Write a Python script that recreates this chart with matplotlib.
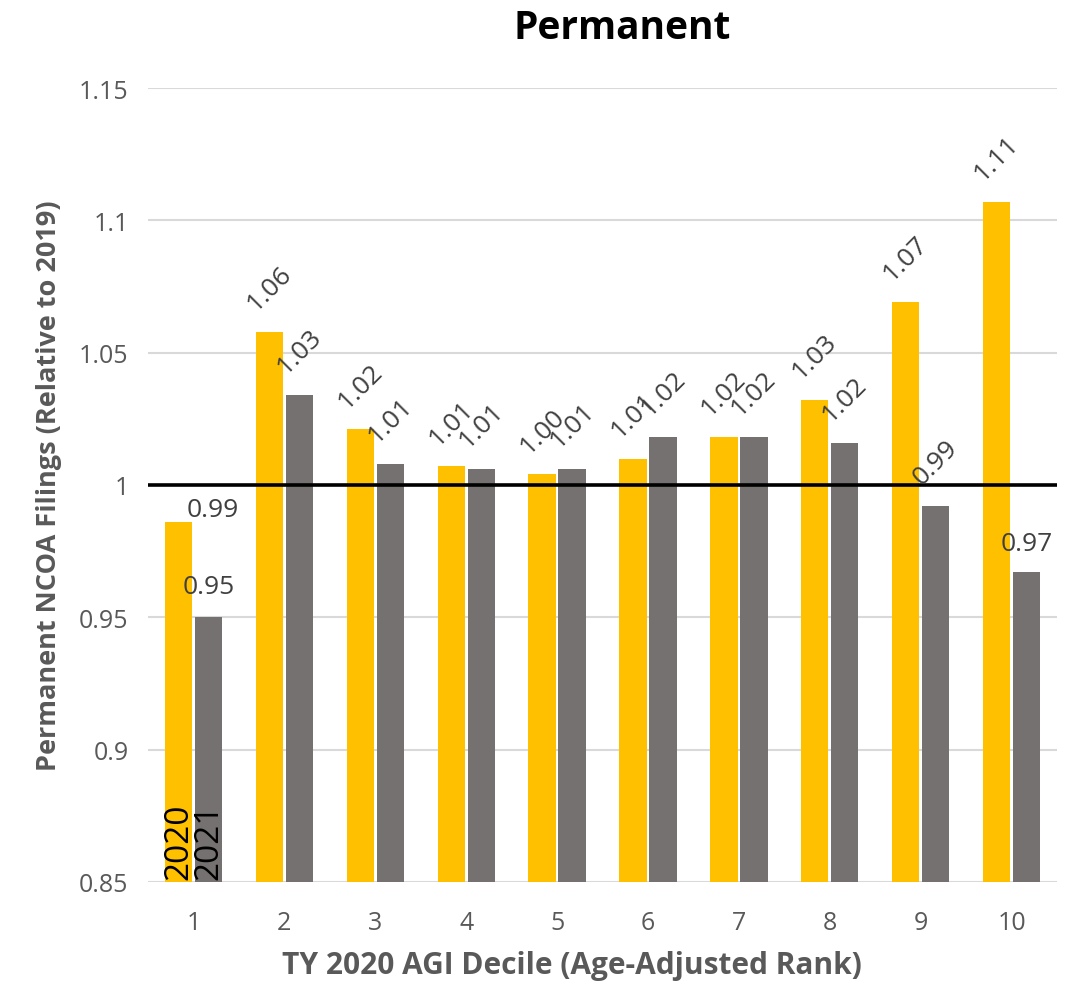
import numpy as np
import matplotlib
matplotlib.use("Agg")
import matplotlib.pyplot as plt

plt.rcParams['font.family'] = ['Open Sans', 'DejaVu Sans']

deciles = ['1', '2', '3', '4', '5', '6', '7', '8', '9', '10']
vals_2020 = [0.986, 1.058, 1.021, 1.007, 1.004, 1.010, 1.018, 1.032, 1.069, 1.107]
vals_2021 = [0.950, 1.034, 1.008, 1.006, 1.006, 1.018, 1.018, 1.016, 0.992, 0.967]
yticks = [0.85, 0.9, 0.95, 1, 1.05, 1.1, 1.15]

yellow = '#FFC000'
grey = '#767171'
txt = '#595959'
lbl = '#404040'

fig = plt.figure(figsize=(10.75, 9.87), dpi=100)
ax = fig.add_axes([0.1377, 0.1054, 0.8456, 0.8044])

x = np.arange(1, len(deciles) + 1)
w = 0.30
off = 0.165
ax.bar(x - off, vals_2020, w, bottom=0, color=yellow, zorder=2)
ax.bar(x + off, vals_2021, w, bottom=0, color=grey, zorder=2)
ax.axhline(1, color='black', lw=2.6, zorder=3)

ax.set_xlim(0.5, 10.5)
ax.set_ylim(0.85, 1.15)
ax.set_yticks(yticks)
ax.set_yticklabels(['0.85', '0.9', '0.95', '1', '1.05', '1.1', '1.15'])
ax.set_xticks(x)
ax.set_xticklabels(deciles)
ax.tick_params(length=0, labelsize=18, colors=txt)
ax.tick_params(axis='x', pad=20)
ax.tick_params(axis='y', pad=14)
ax.grid(axis='y', color='#D9D9D9', lw=1.5, zorder=0)
for s in ax.spines.values():
    s.set_visible(False)

# data labels: rotated above most bars, flat for a few
flat = {(0, 0): (6, 0, 'left'), (1, 0): (0, 13, 'center'), (1, 9): (0, 12, 'center')}
for si, vals in enumerate([vals_2020, vals_2021]):
    xs = x - off if si == 0 else x + off
    for i, v in enumerate(vals):
        s = f'{v:.2f}'
        if (si, i) in flat:
            dx, dy, ha = flat[(si, i)]
            ax.annotate(s, (xs[i], v), xytext=(dx, dy), textcoords='offset points',
                        ha=ha, va='bottom', fontsize=19, color=lbl, zorder=4)
        else:
            ax.annotate(s, (xs[i], v), xytext=(0, 12), textcoords='offset points',
                        ha='center', va='bottom', rotation=45, fontsize=19,
                        color=lbl, zorder=4)

# series names inside the first pair of bars
ax.text(1 - off, 0.851, '2020', rotation=90, ha='center', va='bottom',
        fontsize=24, color='black', zorder=4)
ax.text(1 + off, 0.851, '2021', rotation=90, ha='center', va='bottom',
        fontsize=24, color='black', zorder=4)

ax.set_title('Permanent', fontsize=28, fontweight='bold', color='black',
             pad=36, x=0.522)
ax.set_xlabel('TY 2020 AGI Decile (Age-Adjusted Rank)', fontsize=21.5,
              fontweight='bold', color=txt, labelpad=11, x=0.466)
ax.set_ylabel('Permanent NCOA Filings (Relative to 2019)', fontsize=19.5,
              fontweight='bold', color=txt, labelpad=12)

fig.savefig('out.png', dpi=100)
